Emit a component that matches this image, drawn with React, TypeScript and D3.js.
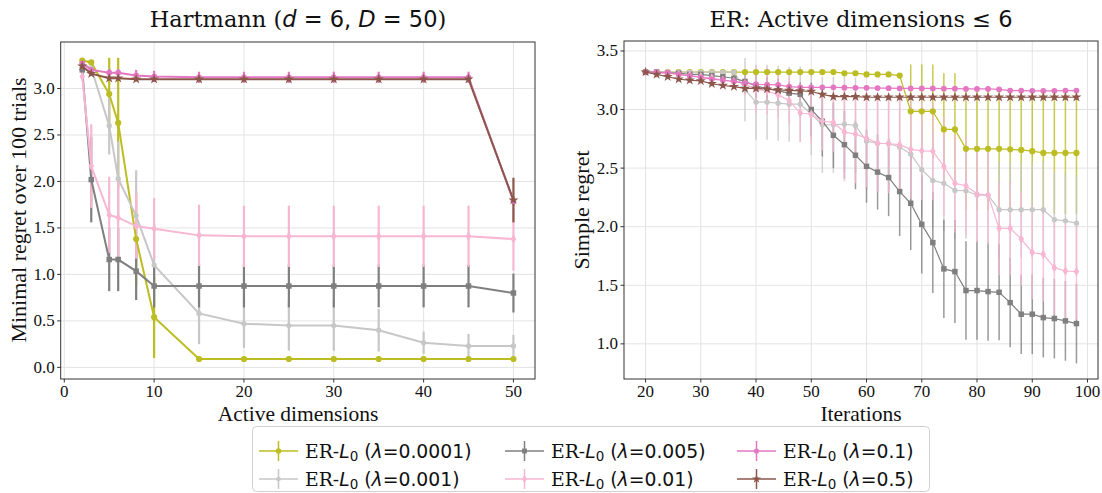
import * as d3 from 'd3';
import React, { useRef, useEffect } from 'react';

// ---- left panel: Hartmann ----
const dimsX = [2, 3, 5, 6, 8, 10, 15, 20, 25, 30, 35, 40, 45, 50];

const hY0001 = [3.30, 3.28, 2.94, 2.63, 1.38, 0.54, 0.09, 0.09, 0.09, 0.09, 0.09, 0.09, 0.09, 0.09];
const hE0001 = [0.02, 0.02, 0.39, 0.70, 0.50, 0.44, 0.03, 0.03, 0.03, 0.03, 0.03, 0.03, 0.03, 0.03];
const hY001 = [3.26, 3.22, 2.60, 2.03, 1.63, 1.10, 0.58, 0.47, 0.45, 0.45, 0.40, 0.265, 0.23, 0.23];
const hE001 = [0.03, 0.05, 0.31, 0.40, 0.49, 0.45, 0.33, 0.26, 0.27, 0.27, 0.23, 0.12, 0.13, 0.12];
const hY005 = [3.20, 2.02, 1.16, 1.16, 1.035, 0.875, 0.875, 0.875, 0.875, 0.875, 0.875, 0.875, 0.875, 0.80];
const hE005 = [0.04, 0.46, 0.34, 0.34, 0.31, 0.23, 0.23, 0.23, 0.23, 0.23, 0.23, 0.23, 0.23, 0.21];
const hY01 = [3.13, 2.165, 1.64, 1.61, 1.52, 1.49, 1.42, 1.41, 1.41, 1.41, 1.41, 1.41, 1.41, 1.38];
const hE01 = [0.05, 0.45, 0.41, 0.42, 0.35, 0.33, 0.33, 0.33, 0.33, 0.33, 0.33, 0.33, 0.33, 0.34];
const hY1 = [3.27, 3.20, 3.17, 3.17, 3.14, 3.13, 3.12, 3.12, 3.12, 3.12, 3.12, 3.12, 3.12, 1.79];
const hE1 = [0.02, 0.03, 0.04, 0.04, 0.06, 0.06, 0.06, 0.06, 0.06, 0.06, 0.06, 0.06, 0.06, 0.05];
const hY5 = [3.24, 3.16, 3.11, 3.11, 3.10, 3.10, 3.10, 3.10, 3.10, 3.10, 3.10, 3.10, 3.10, 1.80];
const hE5 = [0.02, 0.02, 0.02, 0.02, 0.02, 0.02, 0.02, 0.02, 0.02, 0.02, 0.02, 0.02, 0.02, 0.24];

// ---- right panel: ER, active dimensions <= 6 ----
const iters = [20, 22, 24, 26, 28, 30, 32, 34, 36, 38, 40, 42, 44, 46, 48, 50, 52, 54, 56, 58,
  60, 62, 64, 66, 68, 70, 72, 74, 76, 78, 80, 82, 84, 86, 88, 90, 92, 94, 96, 98];

const rY0001 = [3.32, 3.32, 3.32, 3.32, 3.32, 3.32, 3.32, 3.32, 3.32, 3.32, 3.32, 3.32, 3.32, 3.32, 3.32, 3.32, 3.32, 3.32, 3.31, 3.31,
  3.30, 3.30, 3.30, 3.29, 2.985, 2.985, 2.985, 2.83, 2.83, 2.665, 2.665, 2.665, 2.665, 2.66, 2.655, 2.645, 2.63, 2.63, 2.63, 2.63];
const rE0001 = [0, 0, 0, 0, 0, 0, 0, 0, 0, 0, 0, 0, 0, 0, 0, 0, 0, 0, 0, 0,
  0, 0, 0, 0, 0.40, 0.40, 0.40, 0.48, 0.48, 0.52, 0.52, 0.52, 0.52, 0.52, 0.52, 0.52, 0.52, 0.52, 0.52, 0.52];
const rY001 = [3.32, 3.32, 3.32, 3.32, 3.32, 3.32, 3.32, 3.32, 3.32, 3.17, 3.063, 3.063, 3.054, 3.046, 3.046, 2.96, 2.87, 2.87, 2.875, 2.864,
  2.73, 2.71, 2.71, 2.68, 2.62, 2.486, 2.395, 2.37, 2.31, 2.307, 2.27, 2.27, 2.145, 2.145, 2.145, 2.145, 2.145, 2.06, 2.05, 2.03];
const rE001 = [0, 0, 0, 0, 0, 0, 0, 0, 0, 0.27, 0.32, 0.32, 0.32, 0.32, 0.32, 0.35, 0.41, 0.41, 0.41, 0.41,
  0.41, 0.41, 0.41, 0.41, 0.41, 0.41, 0.41, 0.41, 0.41, 0.41, 0.41, 0.41, 0.41, 0.41, 0.41, 0.41, 0.41, 0.41, 0.41, 0.41];
const rY005 = [3.32, 3.32, 3.31, 3.31, 3.30, 3.30, 3.29, 3.28, 3.267, 3.24, 3.20, 3.18, 3.16, 3.14, 3.13, 3.00, 2.90, 2.78, 2.70, 2.61,
  2.515, 2.466, 2.42, 2.30, 2.20, 2.02, 1.864, 1.64, 1.617, 1.455, 1.455, 1.446, 1.44, 1.352, 1.253, 1.253, 1.224, 1.216, 1.196, 1.173];
const rE005 = [0, 0, 0, 0, 0, 0, 0, 0, 0.05, 0.10, 0.10, 0.10, 0.10, 0.10, 0.10, 0.23, 0.30, 0.28, 0.29, 0.29,
  0.31, 0.32, 0.33, 0.38, 0.40, 0.42, 0.43, 0.42, 0.44, 0.42, 0.42, 0.42, 0.41, 0.38, 0.34, 0.34, 0.34, 0.34, 0.34, 0.34];
const rY01 = [3.32, 3.31, 3.31, 3.30, 3.29, 3.28, 3.27, 3.25, 3.24, 3.22, 3.17, 3.16, 3.125, 3.077, 2.97, 2.96, 2.90, 2.89, 2.807, 2.79,
  2.756, 2.713, 2.708, 2.70, 2.66, 2.648, 2.645, 2.514, 2.37, 2.35, 2.28, 2.27, 1.986, 1.986, 1.895, 1.78, 1.764, 1.65, 1.622, 1.617];
const rE01 = [0.02, 0.02, 0.02, 0.02, 0.02, 0.02, 0.02, 0.02, 0.02, 0.10, 0.20, 0.20, 0.20, 0.20, 0.25, 0.25, 0.25, 0.25, 0.42, 0.42,
  0.42, 0.42, 0.42, 0.42, 0.42, 0.42, 0.42, 0.42, 0.42, 0.42, 0.42, 0.42, 0.40, 0.40, 0.40, 0.40, 0.40, 0.40, 0.40, 0.41];
const rY1 = [3.32, 3.32, 3.315, 3.30, 3.287, 3.275, 3.26, 3.25, 3.24, 3.225, 3.216, 3.212, 3.21, 3.196, 3.19, 3.19, 3.19, 3.19, 3.187, 3.185,
  3.185, 3.183, 3.182, 3.18, 3.18, 3.18, 3.18, 3.178, 3.178, 3.176, 3.176, 3.176, 3.172, 3.162, 3.162, 3.16, 3.16, 3.16, 3.162, 3.162];
const rE1 = iters.map(() => 0.02);
const rY5 = [3.32, 3.30, 3.28, 3.26, 3.25, 3.245, 3.22, 3.205, 3.196, 3.18, 3.18, 3.175, 3.168, 3.163, 3.16, 3.154, 3.13, 3.11, 3.11, 3.11,
  3.105, 3.105, 3.105, 3.105, 3.105, 3.105, 3.105, 3.105, 3.105, 3.105, 3.105, 3.105, 3.105, 3.105, 3.105, 3.105, 3.105, 3.105, 3.105, 3.105];
const rE5 = iters.map(() => 0.02);

const lambdas = ['0.0001', '0.001', '0.005', '0.01', '0.1', '0.5'];
const colors = ['#bcbd22', '#c7c7c7', '#7f7f7f', '#f7b6d2', '#e377c2', '#8c564b'];
const symbols = [d3.symbolCircle, d3.symbolCircle, d3.symbolSquare, d3.symbolDiamond, d3.symbolCircle, d3.symbolStar];
const symSizes = [30, 22, 30, 26, 26, 32];

const leftSeries = [[hY0001, hE0001], [hY001, hE001], [hY005, hE005], [hY01, hE01], [hY1, hE1], [hY5, hE5]];
const rightSeries = [[rY0001, rE0001], [rY001, rE001], [rY005, rE005], [rY01, rE01], [rY1, rE1], [rY5, rE5]];

const SERIF = '"DejaVu Serif", serif';
const TIMES = '"Liberation Serif", "Times New Roman", serif';
const SANS = '"DejaVu Sans", sans-serif';

function App() {
    const ref = useRef(null);

    useEffect(() => {
        const svg = d3.select(ref.current);
        svg.selectAll('*').remove();

        const drawPanel = (opts) => {
            const { x, y, xTicks, yTicks, xs, series, lw, ew, eOpacity } = opts;
            const [x0, x1] = x.range();
            const [y1, y0] = y.range();
            const g = svg.append('g');

            // grid
            g.selectAll('.gx').data(xTicks).enter().append('line')
                .attr('x1', d => x(d)).attr('x2', d => x(d))
                .attr('y1', y0).attr('y2', y1)
                .attr('stroke', '#e3e3e3').attr('stroke-width', 1);
            g.selectAll('.gy').data(yTicks).enter().append('line')
                .attr('x1', x0).attr('x2', x1)
                .attr('y1', d => y(d)).attr('y2', d => y(d))
                .attr('stroke', '#e3e3e3').attr('stroke-width', 1);

            // error bars first (data lines sit above them)
            series.forEach(([ys, es], i) => {
                g.append('g').selectAll('line').data(xs).enter().append('line')
                    .attr('x1', (d) => x(d)).attr('x2', (d) => x(d))
                    .attr('y1', (d, j) => y(ys[j] - es[j]))
                    .attr('y2', (d, j) => y(ys[j] + es[j]))
                    .attr('stroke', colors[i])
                    .attr('stroke-opacity', eOpacity)
                    .attr('stroke-width', ew);
            });

            series.forEach(([ys], i) => {
                const line = d3.line().x((d) => x(d)).y((d, j) => y(ys[j]));
                g.append('path').datum(xs)
                    .attr('d', line)
                    .attr('fill', 'none')
                    .attr('stroke', colors[i])
                    .attr('stroke-width', lw);
                const sym = d3.symbol().type(symbols[i]).size(symSizes[i]);
                g.append('g').selectAll('path').data(xs).enter().append('path')
                    .attr('d', sym)
                    .attr('transform', (d, j) => 'translate(' + x(d) + ',' + y(ys[j]) + ')')
                    .attr('fill', colors[i]);
            });

            // frame
            g.append('rect')
                .attr('x', x0).attr('y', y0)
                .attr('width', x1 - x0).attr('height', y1 - y0)
                .attr('fill', 'none').attr('stroke', '#333').attr('stroke-width', 1);

            // ticks
            g.selectAll('.tx').data(xTicks).enter().append('line')
                .attr('x1', d => x(d)).attr('x2', d => x(d))
                .attr('y1', y1).attr('y2', y1 + 3.5)
                .attr('stroke', '#333');
            g.selectAll('.txl').data(xTicks).enter().append('text')
                .attr('x', d => x(d)).attr('y', y1 + 18)
                .attr('text-anchor', 'middle')
                .attr('font-family', TIMES).attr('font-size', 17)
                .attr('fill', '#111')
                .text(d => d);
            g.selectAll('.ty').data(yTicks).enter().append('line')
                .attr('x1', x0 - 3.5).attr('x2', x0)
                .attr('y1', d => y(d)).attr('y2', d => y(d))
                .attr('stroke', '#333');
            g.selectAll('.tyl').data(yTicks).enter().append('text')
                .attr('x', x0 - 6).attr('y', d => y(d) + 5.5)
                .attr('text-anchor', 'end')
                .attr('font-family', TIMES).attr('font-size', 17)
                .attr('fill', '#111')
                .text(d => d3.format('.1f')(d));
            return g;
        };

        const lx = d3.scaleLinear().domain([-0.4, 52.4]).range([60.7, 535]);
        const ly = d3.scaleLinear().domain([-0.125, 3.5]).range([379, 42]);
        drawPanel({
            x: lx, y: ly,
            xTicks: [0, 10, 20, 30, 40, 50],
            yTicks: [0, 0.5, 1, 1.5, 2, 2.5, 3],
            xs: dimsX, series: leftSeries, lw: 2, ew: 2.2, eOpacity: 1
        });

        const rx = d3.scaleLinear().domain([16.1, 101.9]).range([624, 1098]);
        const ry = d3.scaleLinear().domain([0.70, 3.585]).range([379, 41]);
        drawPanel({
            x: rx, y: ry,
            xTicks: [20, 30, 40, 50, 60, 70, 80, 90, 100],
            yTicks: [1, 1.5, 2, 2.5, 3, 3.5],
            xs: iters, series: rightSeries, lw: 1.2, ew: 1.5, eOpacity: 0.8
        });

        // titles
        const t1 = svg.append('text')
            .attr('x', 298).attr('y', 27)
            .attr('text-anchor', 'middle')
            .attr('font-size', 22.5).attr('fill', '#111');
        t1.append('tspan').attr('font-family', SERIF).text('Hartmann (');
        t1.append('tspan').attr('font-family', SANS).attr('font-style', 'italic').text('d');
        t1.append('tspan').attr('font-family', SANS).text(' = 6, ');
        t1.append('tspan').attr('font-family', SANS).attr('font-style', 'italic').text('D');
        t1.append('tspan').attr('font-family', SANS).text(' = 50');
        t1.append('tspan').attr('font-family', SERIF).text(')');

        const t2 = svg.append('text')
            .attr('x', 861).attr('y', 27)
            .attr('text-anchor', 'middle')
            .attr('font-size', 22.5).attr('fill', '#111');
        t2.append('tspan').attr('font-family', SERIF).text('ER: Active dimensions ');
        t2.append('tspan').attr('font-family', SANS).text('≤ 6');

        // axis labels
        svg.append('text').attr('x', 298).attr('y', 420.5)
            .attr('text-anchor', 'middle').attr('font-family', TIMES)
            .attr('font-size', 21.5).attr('fill', '#111')
            .text('Active dimensions');
        svg.append('text').attr('x', 861).attr('y', 420.5)
            .attr('text-anchor', 'middle').attr('font-family', TIMES)
            .attr('font-size', 21.5).attr('fill', '#111')
            .text('Iterations');
        svg.append('text')
            .attr('transform', 'translate(26,210) rotate(-90)')
            .attr('text-anchor', 'middle').attr('font-family', TIMES)
            .attr('font-size', 22).attr('fill', '#111')
            .text('Minimal regret over 100 trials');
        svg.append('text')
            .attr('transform', 'translate(589,210) rotate(-90)')
            .attr('text-anchor', 'middle').attr('font-family', TIMES)
            .attr('font-size', 22).attr('fill', '#111')
            .text('Simple regret');

        // legend
        const lg = svg.append('g');
        lg.append('rect')
            .attr('x', 252.5).attr('y', 426.5)
            .attr('width', 677).attr('height', 65)
            .attr('rx', 4)
            .attr('fill', 'white').attr('stroke', '#d0d0d0');
        const colX = [259, 505, 737];
        const rowY = [451, 479];
        lambdas.forEach((lam, i) => {
            const cx = colX[Math.floor(i / 2)];
            const cy = rowY[i % 2];
            lg.append('line')
                .attr('x1', cx).attr('x2', cx + 39)
                .attr('y1', cy).attr('y2', cy)
                .attr('stroke', colors[i]).attr('stroke-width', 1.5);
            lg.append('line')
                .attr('x1', cx + 19.5).attr('x2', cx + 19.5)
                .attr('y1', cy - 10).attr('y2', cy + 10)
                .attr('stroke', colors[i]).attr('stroke-width', 1.5);
            lg.append('path')
                .attr('d', d3.symbol().type(symbols[i]).size(symSizes[i] * 0.8)())
                .attr('transform', 'translate(' + (cx + 19.5) + ',' + cy + ')')
                .attr('fill', colors[i]);
            const tx = lg.append('text')
                .attr('x', cx + 46).attr('y', cy + 6.5)
                .attr('font-size', 18.8).attr('fill', '#111');
            tx.append('tspan').attr('font-family', SERIF).text('ER-');
            tx.append('tspan').attr('font-family', SANS).attr('font-style', 'italic').text('L');
            tx.append('tspan').attr('font-family', SANS).attr('font-size', 13.5).attr('dy', 3).text('0');
            tx.append('tspan').attr('font-family', SANS).attr('dy', -3).text(' (');
            tx.append('tspan').attr('font-family', SANS).attr('font-style', 'italic').text('λ');
            tx.append('tspan').attr('font-family', SANS).text('=' + lam + ')');
        });
    }, []);

    return (
        <svg ref={ref} width={1102} height={493}
            style={{ position: 'absolute', left: 0, top: 0, background: 'white' }}>
        </svg>
    );
}

export default App;
